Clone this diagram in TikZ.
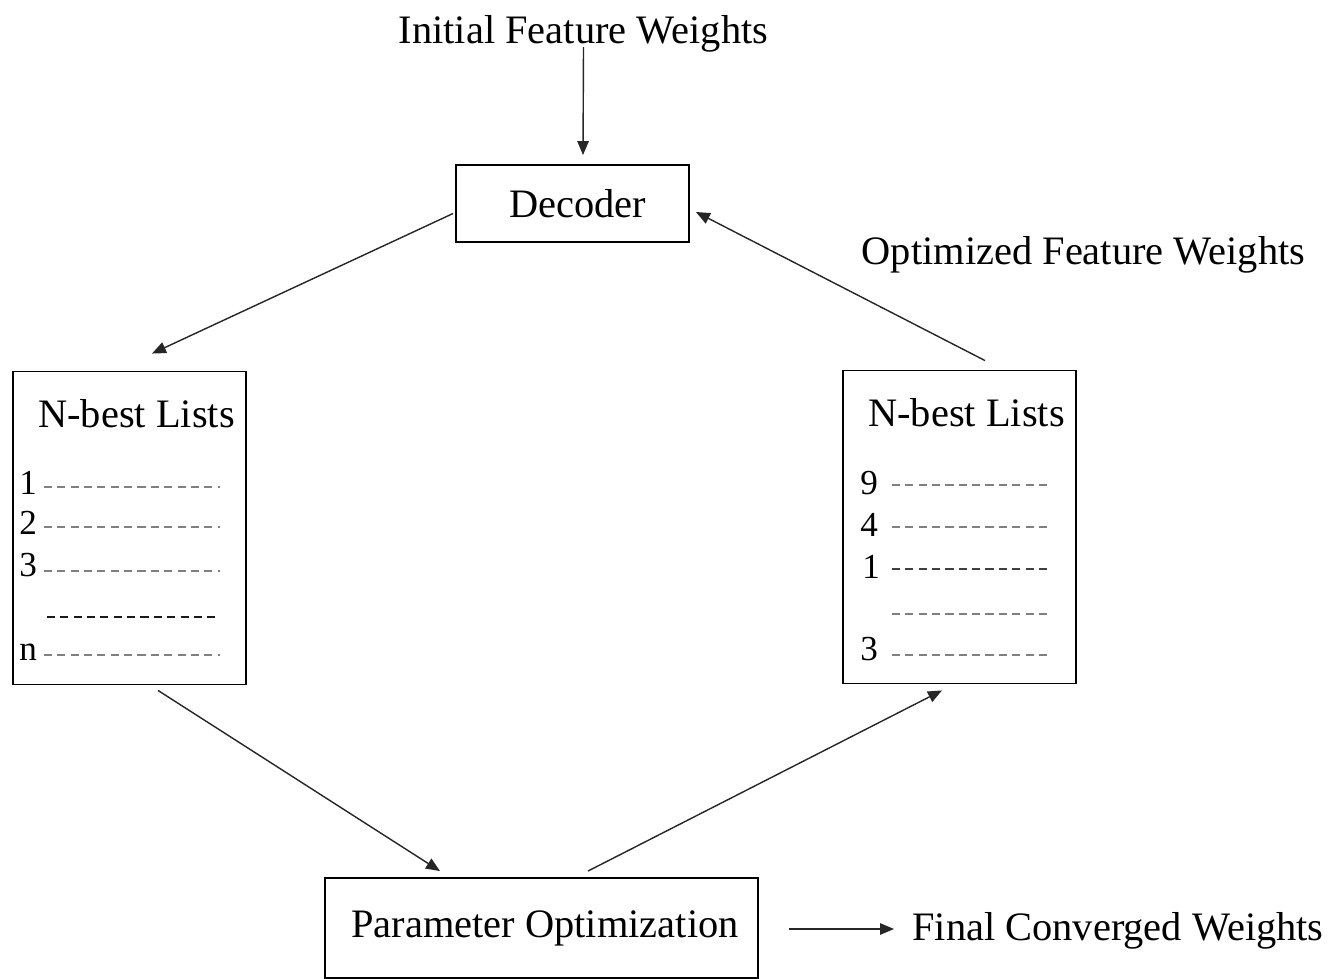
\documentclass[tikz,border=0pt]{standalone}
\usepackage{fontspec}
\setmainfont{Liberation Serif}
\usetikzlibrary{arrows.meta,calc}
\newcommand{\figfont}{\fontsize{23}{27}\selectfont}
\newcommand{\itemfont}{\fontsize{20}{24}\selectfont}
\tikzset{
  plainbox/.style={draw=black, line width=1.1pt, fill=white, font=\figfont, inner sep=0pt},
  listbox/.style={plainbox, minimum width=4.66cm, minimum height=6.26cm},
  tagtext/.style={font=\figfont, inner sep=0pt},
  itemtext/.style={font=\itemfont, inner sep=0pt},
  arrow/.style={-{Triangle[length=2.8mm,width=2.3mm]}, line width=0.8pt, draw=black!85},
  dashrow/.style={draw=black!50, line width=1.1pt, dash pattern=on 4.6pt off 3pt},
  darkrow/.style={dashrow, draw=black!90, line width=1.3pt}
}
\begin{document}
\begin{tikzpicture}[x=0.02cm, y=-0.02cm]
  \useasboundingbox (0,0) rectangle (1335,979);
  % boxes
  \node[plainbox, minimum width=4.66cm, minimum height=1.54cm] (decoder) at (572.5,203.5) {\hspace{6pt}Decoder};
  \node[listbox] (listL) at (129.5,528) {};
  \node[listbox] (listR) at (959.5,527) {};
  \node[plainbox, minimum width=8.66cm, minimum height=2cm] (param) at (541.5,928) {\hspace{4pt}Parameter Optimization};

  % free texts
  \node[tagtext, anchor=base] (init) at (583.5,44) {Initial Feature Weights};
  \node[tagtext, anchor=base] (optim) at (1083.5,265) {Optimized Feature Weights};
  \node[tagtext, anchor=base west] (final) at (912,940) {Final Converged Weights};

  % list contents
  \node[tagtext, anchor=base west] (titleL) at (38,428) {N-best Lists};
  \node[tagtext, anchor=base west] (titleR) at (868,427) {N-best Lists};
  \foreach \tag/\ypos/\ydash in {1/495/487, 2/535/527, 3/576/571, n/660/655} {
    \node[itemtext, anchor=base west] (itemL-\tag) at (19,\ypos) {\tag};
    \draw[dashrow] (44,\ydash) -- (220,\ydash);
  }
  \draw[darkrow] (47,617) -- (220,617);
  \foreach \tag/\ypos/\ydash in {9/495/485, 4/537/527, 3/660/655} {
    \node[itemtext, anchor=base west] (itemR-\tag) at (860,\ypos) {\tag};
    \draw[dashrow] (892,\ydash) -- (1052,\ydash);
  }
  \node[itemtext, anchor=base west] (itemR-1) at (862,578) {1};
  \draw[darkrow, draw=black!75] (892,569) -- (1052,569);
  \draw[dashrow] (892,614) -- (1052,614);

  % connectors
  \draw[arrow] (init.south) ++(0,-6) -- ($(decoder.north)+(10.5,-9)$);
  \draw[arrow] ($(decoder.west)+(-2,10)$) -- ($(listL.north)+(22.5,-17)$);
  \draw[arrow] ($(listL.south)+(28.5,5)$) -- ($(param.north)+(-101.5,-6)$);
  \draw[arrow] ($(param.north)+(46.5,-6)$) -- ($(listR.south)+(-17.5,6)$);
  \draw[arrow] ($(listR.north)+(25.5,-9)$) -- ($(decoder.east)+(6,8.5)$);
  \draw[arrow] ($(param.east)+(30,1)$) -- ($(param.east -| final.west)+(-18,1)$);
\end{tikzpicture}
\end{document}
